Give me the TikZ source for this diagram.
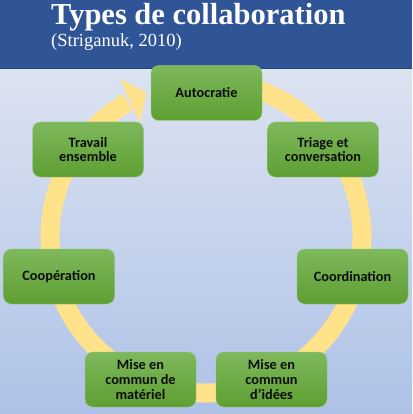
\documentclass[tikz,border=0pt]{standalone}
\usepackage{fontspec}
\usetikzlibrary{calc}
\setmainfont{Liberation Serif}
\newfontfamily\boxfont{Carlito}
\definecolor{hdr}{HTML}{2F5597}
\definecolor{bgtop}{HTML}{DCE3F1}
\definecolor{bgbot}{HTML}{AEC2E7}
\definecolor{ringc}{HTML}{FFE28A}
\definecolor{gtop}{HTML}{7EB85C}
\definecolor{gbot}{HTML}{5E9F32}
\definecolor{txt}{HTML}{0D0D0D}
\begin{document}
\begin{tikzpicture}[x=1pt,y=1pt,
  stepbox/.style={rounded corners=8pt, minimum width=111pt, minimum height=55pt,
    top color=gtop, bottom color=gbot, draw=gtop!80!white, line width=0.4pt,
    align=center, text=txt, inner sep=2pt,
    font=\boxfont\bfseries\fontsize{14.3}{14.7}\selectfont},
  ring/.style={ringc, line width=19pt}]
\useasboundingbox (0,0) rectangle (412,-414);
% background
\shade[top color=bgtop, bottom color=bgbot] (0,-68) rectangle (412,-414);
\fill[hdr] (0,0) rectangle (412,-68);
\draw[hdr!80!black, line width=0.8pt] (0,-68) -- (412,-68);
\node[anchor=base west, text=white, inner sep=0pt,
  font=\bfseries\fontsize{30.5}{30}\selectfont] (title) at (51,-25) {Types de collaboration};
\node[anchor=base west, text=white, inner sep=0pt,
  font=\fontsize{18.5}{18}\selectfont] (sub) at (51,-47) {(Striganuk, 2010)};
% ring arrow
\coordinate (c) at (206,-237);
\draw[ring] (c) ++(85:156) arc[start angle=85, end angle=-240, radius=156];
\fill[ringc] ($(c)+(120:132)$) -- ($(c)+(118.5:180)$) -- ($(c)+(112.5:156)$) -- cycle;
% nodes
\node[stepbox] (auto) at (206.5,-93) {Autocratie};
\node[stepbox] (triage) at (323,-149.5) {Triage et\\conversation};
\node[stepbox] (coord) at (352.5,-276.5) {Coordination};
\node[stepbox] (idees) at (271.5,-379.5) {Mise en\\commun\\d’idées};
\node[stepbox] (mat) at (140.5,-379.5) {Mise en\\commun de\\matériel};
\node[stepbox] (coop) at (59,-276.5) {Coopération};
\node[stepbox] (travail) at (88,-149.5) {Travail\\ensemble};
\end{tikzpicture}
\end{document}
